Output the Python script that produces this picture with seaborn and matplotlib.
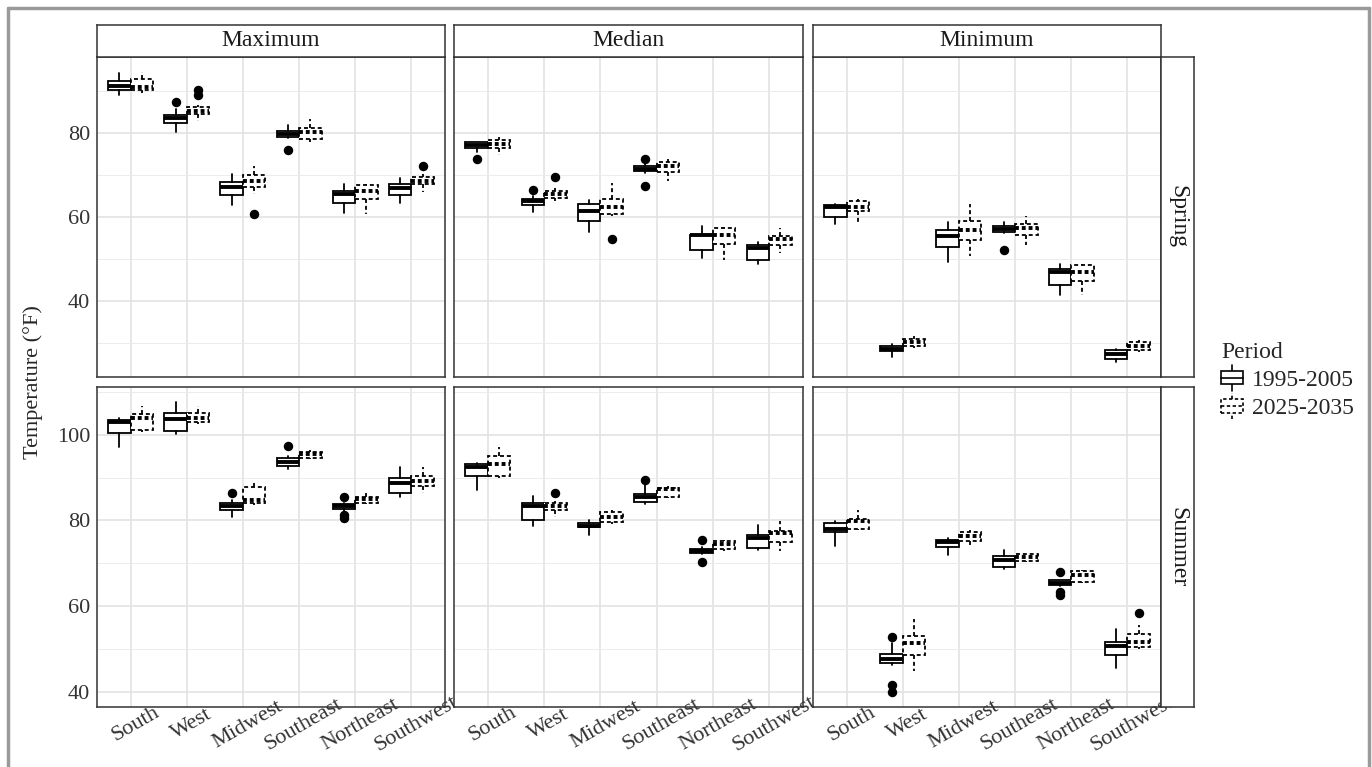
import matplotlib
matplotlib.use("Agg")
import matplotlib.pyplot as plt
import matplotlib.transforms as mtransforms
import seaborn as sns
from matplotlib.patches import Rectangle, Patch
from matplotlib.lines import Line2D
from matplotlib.legend_handler import HandlerBase

# categories
regions = ["South", "West", "Midwest", "Southeast", "Northeast", "Southwest"]
stats_names = ["Maximum", "Median", "Minimum"]
seasons = ["Spring", "Summer"]
periods = ["1995-2005", "2025-2035"]

# box stats: [whisker low, q1, median, q3, whisker high]
spring_max_1995 = [[89.0, 90.3, 91.3, 92.5, 94.4], [80.2, 82.5, 83.6, 84.4, 85.8], [62.8, 65.3, 67.1, 68.3, 70.3],
                   [78.8, 79.2, 79.9, 80.6, 82.0], [61.0, 63.3, 65.6, 66.3, 67.9], [63.3, 65.2, 66.8, 67.9, 69.3]]
spring_max_1995_out = [[], [87.5], [], [75.9], [], []]
spring_max_2025 = [[89.7, 90.3, 91.0, 92.9, 94.7], [83.0, 84.5, 85.3, 86.3, 86.8], [65.5, 67.1, 68.5, 70.1, 72.2],
                   [78.0, 78.7, 80.2, 81.3, 83.4], [60.6, 64.3, 66.1, 67.6, 67.9], [65.9, 67.9, 68.5, 69.6, 70.3]]
spring_max_2025_out = [[], [89.1, 90.3], [60.6], [], [], [72.2]]

spring_med_1995 = [[75.4, 76.5, 77.1, 77.8, 78.0], [61.3, 62.9, 63.7, 64.3, 64.9], [56.4, 59.1, 61.5, 63.0, 64.1],
                   [70.5, 70.9, 71.5, 72.1, 72.7], [50.2, 52.1, 55.6, 55.8, 57.9], [48.7, 49.7, 52.6, 53.3, 54.0]]
spring_med_1995_out = [[73.8], [66.4], [], [67.5, 73.9], [], []]
spring_med_2025 = [[74.7, 76.5, 77.5, 78.3, 79.0], [63.7, 64.6, 65.4, 66.2, 66.9], [60.2, 60.8, 62.4, 64.3, 68.1],
                   [68.5, 70.7, 72.1, 73.1, 73.8], [49.8, 53.6, 55.6, 57.3, 57.5], [51.4, 53.4, 54.8, 55.4, 57.3]]
spring_med_2025_out = [[], [69.5], [54.7], [], [], []]

spring_min_1995 = [[58.4, 60.1, 62.4, 62.8, 63.2], [26.7, 28.0, 28.5, 29.2, 29.6], [49.3, 52.9, 55.4, 57.0, 58.7],
                   [56.2, 56.4, 57.1, 57.8, 58.7], [41.5, 43.7, 46.8, 47.5, 48.7], [25.3, 26.2, 27.2, 28.2, 28.5]]
spring_min_1995_out = [[], [], [], [52.1], [], []]
spring_min_2025 = [[58.7, 61.4, 62.4, 63.9, 64.4], [28.8, 29.2, 30.2, 30.8, 31.5], [50.6, 54.6, 57.0, 59.0, 63.1],
                   [53.4, 55.6, 57.3, 58.3, 60.2], [41.3, 44.8, 46.9, 48.5, 48.7], [27.8, 28.2, 29.2, 30.2, 30.6]]
spring_min_2025_out = [[], [], [], [], [], []]

summer_max_1995 = [[97.1, 100.4, 103.1, 103.5, 103.9], [100.2, 100.8, 103.7, 105.1, 107.8], [80.9, 82.5, 83.3, 84.0, 84.8],
                   [92.1, 92.8, 93.6, 94.6, 95.1], [82.3, 82.7, 83.3, 83.8, 84.2], [85.4, 86.5, 88.7, 90.0, 92.6]]
summer_max_1995_out = [[], [], [86.5], [97.4], [85.6, 81.2, 80.5], []]
summer_max_2025 = [[100.6, 101.2, 103.9, 104.9, 106.8], [102.6, 103.1, 103.9, 105.1, 106.8], [83.7, 84.2, 84.8, 87.8, 89.3],
                   [94.3, 94.7, 95.5, 96.1, 96.5], [83.8, 84.0, 85.0, 85.6, 86.8], [86.4, 88.1, 89.3, 90.4, 92.6]]
summer_max_2025_out = [[], [], [], [], [], []]

summer_med_1995 = [[87.2, 90.4, 92.6, 93.2, 93.4], [78.8, 80.2, 83.4, 84.2, 85.8], [76.7, 78.4, 78.8, 79.4, 80.2],
                   [83.9, 84.3, 85.5, 86.1, 88.3], [72.1, 72.5, 72.9, 73.3, 73.8], [73.0, 73.5, 75.9, 76.7, 79.0]]
summer_med_1995_out = [[], [], [], [89.5], [75.5, 70.4], []]
summer_med_2025 = [[89.9, 90.3, 93.2, 95.1, 97.1], [80.7, 82.5, 83.3, 84.0, 84.5], [79.1, 79.6, 80.7, 81.9, 82.5],
                   [85.2, 85.6, 87.3, 87.7, 88.1], [72.9, 73.4, 74.5, 75.3, 75.5], [72.8, 74.9, 77.0, 77.6, 79.8]]
summer_med_2025_out = [[], [86.4], [], [], [], []]

summer_min_1995 = [[74.1, 77.2, 78.1, 79.5, 79.8], [46.3, 46.7, 47.6, 48.9, 51.4], [72.0, 73.9, 74.9, 75.5, 76.0],
                   [68.7, 69.1, 70.8, 71.6, 73.2], [64.8, 65.0, 65.5, 66.0, 66.1], [45.4, 48.6, 50.6, 51.6, 54.6]]
summer_min_1995_out = [[], [52.7, 41.6, 39.8], [], [], [67.9, 63.3, 62.5], []]
summer_min_2025 = [[77.8, 78.0, 79.8, 80.3, 82.5], [44.7, 48.5, 51.4, 53.1, 57.0], [73.7, 75.3, 76.3, 77.4, 77.8],
                   [70.3, 70.6, 71.4, 72.1, 72.2], [65.4, 65.6, 67.3, 68.2, 68.5], [50.0, 50.4, 51.5, 53.5, 55.6]]
summer_min_2025_out = [[], [], [], [], [], [58.4]]

panels = {
    ("Spring", "Maximum"): [(spring_max_1995, spring_max_1995_out), (spring_max_2025, spring_max_2025_out)],
    ("Spring", "Median"): [(spring_med_1995, spring_med_1995_out), (spring_med_2025, spring_med_2025_out)],
    ("Spring", "Minimum"): [(spring_min_1995, spring_min_1995_out), (spring_min_2025, spring_min_2025_out)],
    ("Summer", "Maximum"): [(summer_max_1995, summer_max_1995_out), (summer_max_2025, summer_max_2025_out)],
    ("Summer", "Median"): [(summer_med_1995, summer_med_1995_out), (summer_med_2025, summer_med_2025_out)],
    ("Summer", "Minimum"): [(summer_min_1995, summer_min_1995_out), (summer_min_2025, summer_min_2025_out)],
}

sns.set_style("white")
plt.rcParams['font.family'] = ['Liberation Serif', 'DejaVu Serif']

W, H = 1372, 767
fig = plt.figure(figsize=(W / 100, H / 100), dpi=100)


def fx(px):
    return px / W


def fy(py):
    return 1 - py / H


col_l = [97, 454, 813]
col_r = [445, 803, 1161]
row_t = [57, 387]
row_b = [377, 707]
frame_col = '#333333'
dash_box = (0, (2.2, 1.6))
dash_med = (0, (1.0, 0.75))
line_styles = ['-', dash_box]
med_styles = ['-', dash_med]
offsets = [-0.2, 0.2]


def ylims(season):
    vals = []
    for st in stats_names:
        for arr, out in panels[(season, st)]:
            for b, o in zip(arr, out):
                vals += b + o
    lo, hi = min(vals), max(vals)
    pad = (hi - lo) * 0.05
    return lo - pad, hi + pad


label_shift = mtransforms.ScaledTranslation(5 / 100, 0, fig.dpi_scale_trans)

for r, season in enumerate(seasons):
    lims = ylims(season)
    for c, st in enumerate(stats_names):
        ax = fig.add_axes([fx(col_l[c]), fy(row_b[r]), (col_r[c] - col_l[c]) / W, (row_b[r] - row_t[r]) / H])
        for k, (arr, out) in enumerate(panels[(season, st)]):
            bstats = [dict(whislo=b[0], q1=b[1], med=b[2], q3=b[3], whishi=b[4], fliers=o) for b, o in zip(arr, out)]
            pos = [i + 1 + offsets[k] for i in range(len(regions))]
            ax.bxp(bstats, positions=pos, widths=0.4, showcaps=False, patch_artist=True,
                   boxprops=dict(facecolor='white', edgecolor='black', linewidth=1.3, linestyle=line_styles[k]),
                   whiskerprops=dict(color='black', linewidth=1.3, linestyle=line_styles[k]),
                   medianprops=dict(color='black', linewidth=2.8, linestyle=med_styles[k]),
                   flierprops=dict(marker='o', markerfacecolor='black', markeredgecolor='black', markersize=5.8))
        ax.set_xlim(0.4, 6.6)
        ax.set_ylim(*lims)
        ax.set_xticks(range(1, 7))
        yt = [40, 60, 80, 100] if season == "Summer" else [40, 60, 80]
        ax.set_yticks(yt)
        ax.set_yticks([v for v in [30, 50, 70, 90, 110] if lims[0] < v < lims[1]], minor=True)
        ax.set_axisbelow(True)
        ax.grid(True, which='major', color='#e3e3e3', linewidth=1.2)
        ax.grid(True, which='minor', axis='y', color='#ececec', linewidth=0.7)
        for sp in ax.spines.values():
            sp.set_color(frame_col)
            sp.set_linewidth(1.1)
        ax.tick_params(axis='both', which='major', length=3, width=1.0, color=frame_col,
                       labelsize=16, labelcolor='#333333', pad=2)
        ax.tick_params(axis='y', which='minor', length=0)
        if r == 1:
            ax.set_xticklabels(regions, rotation=30, va='center', ha='center')
            ax.tick_params(axis='x', pad=9.5)
            for lab in ax.get_xticklabels():
                lab.set_transform(lab.get_transform() + label_shift)
        else:
            ax.tick_params(axis='x', length=0, labelbottom=False)
        if c > 0:
            ax.tick_params(axis='y', length=0, labelleft=False)
        ax.set_xlabel('')
        ax.set_ylabel('')

# strips
for c, st in enumerate(stats_names):
    s = fig.add_axes([fx(col_l[c]), fy(row_t[0]), (col_r[c] - col_l[c]) / W, 32 / H])
    s.set_xticks([])
    s.set_yticks([])
    s.set_facecolor('white')
    for sp in s.spines.values():
        sp.set_color(frame_col)
        sp.set_linewidth(1.1)
    s.text(0.5, 0.5, st, ha='center', va='center', fontsize=17, color='#1a1a1a', transform=s.transAxes)

for r, season in enumerate(seasons):
    s = fig.add_axes([fx(1161), fy(row_b[r]), 33 / W, (row_b[r] - row_t[r]) / H])
    s.set_xticks([])
    s.set_yticks([])
    s.set_facecolor('white')
    for sp in s.spines.values():
        sp.set_color(frame_col)
        sp.set_linewidth(1.1)
    s.text(0.5, 0.5, season, ha='center', va='center', rotation=-90, fontsize=17, color='#1a1a1a',
           transform=s.transAxes)

fig.text(fx(33), fy(382), 'Temperature (°F)', rotation=90, ha='center', va='center', fontsize=16)


class BoxHandler(HandlerBase):
    def __init__(self, ls):
        super().__init__()
        self.ls = ls

    def create_artists(self, legend, orig_handle, xdescent, ydescent, width, height, fontsize, trans):
        x0, y0 = -xdescent, -ydescent
        cx = x0 + width / 2
        box = Rectangle((x0, y0 + 0.1 * height), width, 0.8 * height, facecolor='white', edgecolor='black',
                        linewidth=1.2, linestyle=self.ls, transform=trans)
        med = Line2D([x0, x0 + width], [y0 + 0.5 * height] * 2, color='black', linewidth=1.2,
                     linestyle=self.ls, transform=trans)
        w1 = Line2D([cx, cx], [y0 - 0.3 * height, y0 + 0.1 * height], color='black', linewidth=1.2,
                    linestyle=self.ls, transform=trans)
        w2 = Line2D([cx, cx], [y0 + 0.9 * height, y0 + 1.3 * height], color='black', linewidth=1.2,
                    linestyle=self.ls, transform=trans)
        return [w1, w2, box, med]


h1 = Patch(label=periods[0])
h2 = Patch(label=periods[1])
fig.legend(handles=[h1, h2], labels=periods, title='Period', loc='upper left',
           bbox_to_anchor=(fx(1221), fy(342)), frameon=False, fontsize=17, title_fontsize=17,
           handlelength=0.95, handleheight=0.7, handletextpad=0.35, labelspacing=0.28,
           borderaxespad=0, borderpad=0, alignment='left',
           handler_map={h1: BoxHandler('-'), h2: BoxHandler((0, (2.0, 1.5)))})

# outer grey frame of the original figure
for xs, ys in [([8, 8], [8, 780]), ([8, 1369], [8, 8]), ([1369, 1369], [8, 780])]:
    fig.add_artist(Line2D([fx(x) for x in xs], [fy(y) for y in ys], color='#9a9a9a', linewidth=2.5,
                          transform=fig.transFigure))

fig.savefig('out.png', dpi=100)
